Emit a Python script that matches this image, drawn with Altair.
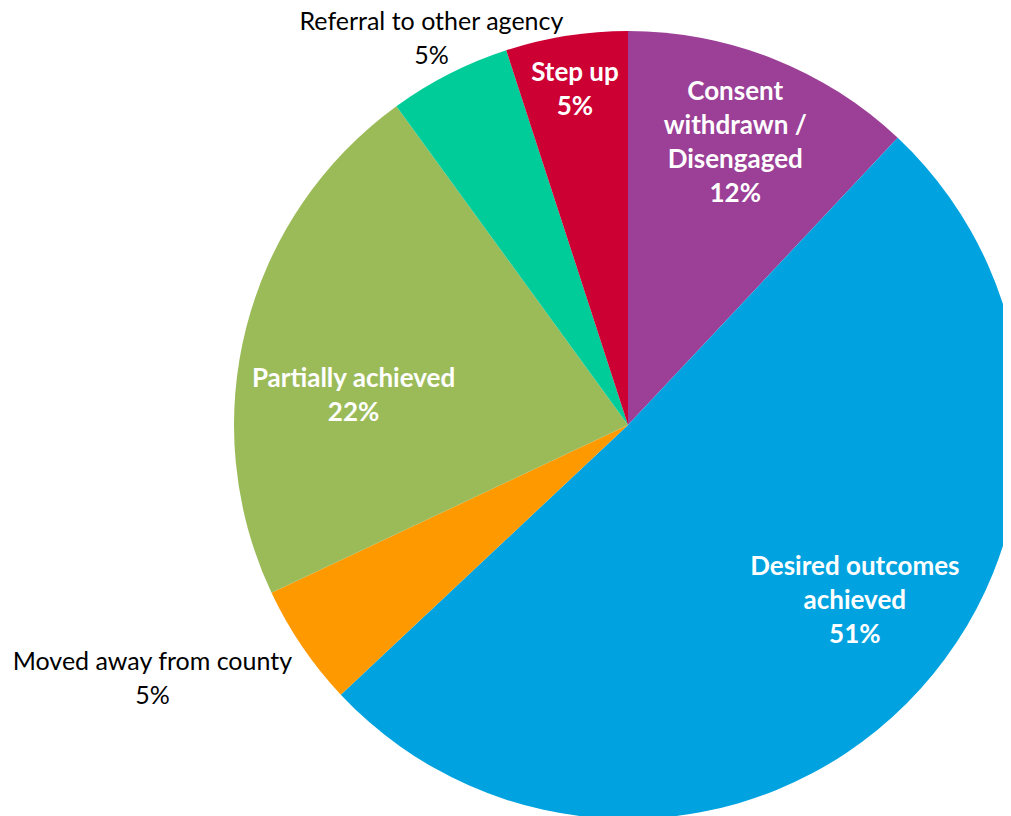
import altair as alt
import pandas as pd

# ---- data ----
categories = [
    "Consent withdrawn / Disengaged",
    "Desired outcomes achieved",
    "Moved away from county",
    "Partially achieved",
    "Referral to other agency",
    "Step up",
]
values = [12, 51, 5, 22, 5, 5]
label_text = [
    "Consent\nwithdrawn /\nDisengaged\n12%",
    "Desired outcomes\nachieved\n51%",
    "Moved away from county\n5%",
    "Partially achieved\n22%",
    "Referral to other agency\n5%",
    "Step up\n5%",
]
colors = ["#9B3F97", "#00A3E0", "#FF9900", "#9BBB59", "#00CC99", "#CC0033"]

df = pd.DataFrame({
    "cat": categories,
    "value": values,
    "label": label_text,
    "order": list(range(len(categories))),
})

# ---- layout (not data) ----
W, H = 995, 808
CX, CY = 620, 417
R = 394
FONT = "Lato"
LINE_H = 34
# per-label placement: (radius, theta offset in radians, inside?)
label_layout = {
    "Consent withdrawn / Disengaged": (302, -0.014, True),
    "Desired outcomes achieved": (287, -0.126, True),
    "Moved away from county": (539, 0.107, False),
    "Partially achieved": (276, -0.145, True),
    "Referral to other agency": (433, 0.0, False),
    "Step up": (339, 0.0, True),
}

color_scale = alt.Scale(domain=categories, range=colors)
base = alt.Chart(df).encode(
    theta=alt.Theta("value:Q", stack=True),
    order=alt.Order("order:Q", sort="ascending"),
    x=alt.value(CX),
    y=alt.value(CY),
)

pie = base.mark_arc(radius=R, stroke=None).encode(
    color=alt.Color("cat:N", scale=color_scale, legend=None)
)

layers = [pie]
for cat, (r, off, inside) in label_layout.items():
    n_lines = label_text[categories.index(cat)].count("\n") + 1
    layers.append(
        base.mark_text(
            radius=r,
            thetaOffset=off,
            dy=-(n_lines - 1) * LINE_H / 2,
            font=FONT,
            fontSize=26 if inside else 25,
            fontWeight="bold" if inside else "normal",
            color="white" if inside else "#000000",
            lineBreak="\n",
            lineHeight=LINE_H,
            align="center",
            baseline="middle",
        ).encode(
            text=alt.condition(f"datum.cat == '{cat}'", "label:N", alt.value(""))
        )
    )

chart = alt.layer(*layers).properties(
    width=W, height=H, padding=0, autosize=alt.AutoSizeParams(type="none")
).configure_view(stroke=None)

chart.save("out.html", embed_options={"renderer": "svg", "actions": False})
